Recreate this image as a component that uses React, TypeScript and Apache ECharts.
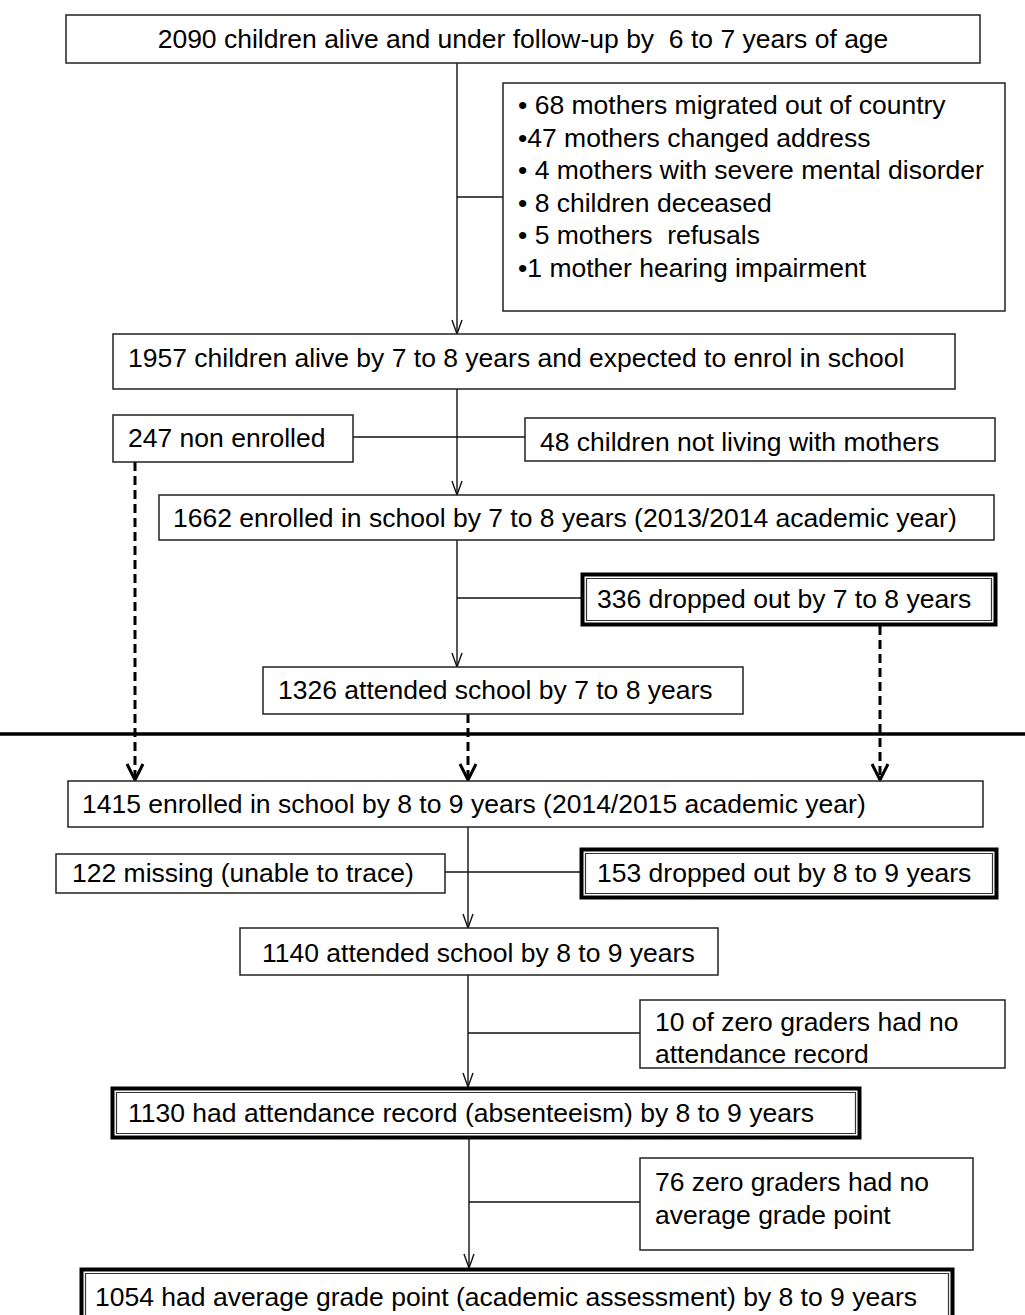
import React, { useEffect, useRef } from "react";
import * as echarts from "echarts";

// ---- Flow content (counts and labels) ----
const mainLabels = [
  "2090 children alive and under follow-up by  6 to 7 years of age",
  "1957 children alive by 7 to 8 years and expected to enrol in school",
  "1662 enrolled in school by 7 to 8 years (2013/2014 academic year)",
  "1326 attended school by 7 to 8 years",
  "1415 enrolled in school by 8 to 9 years (2014/2015 academic year)",
  "1140 attended school by 8 to 9 years",
  "1130 had attendance record (absenteeism) by 8 to 9 years",
  "1054 had average grade point (academic assessment) by 8 to 9 years",
];

const exclusionLabels = [
  "• 68 mothers migrated out of country",
  "•47 mothers changed address",
  "• 4 mothers with severe mental disorder",
  "• 8 children deceased",
  "• 5 mothers  refusals",
  "•1 mother hearing impairment",
];

const sideLabels = [
  ["247 non enrolled"],
  ["48 children not living with mothers"],
  ["336 dropped out by 7 to 8 years"],
  ["122 missing (unable to trace)"],
  ["153 dropped out by 8 to 9 years"],
  ["10 of zero graders had no", "attendance record"],
  ["76 zero graders had no", "average grade point"],
];

// ---- Layout (positions / sizes / styles) ----
type Box = { x: number; y: number; w: number; h: number; tx: number; ty: number; dbl?: boolean; center?: boolean; lh?: number };

const mainBoxes: Box[] = [
  { x: 66, y: 15, w: 914, h: 48, tx: 523, ty: 39, center: true },
  { x: 113, y: 334, w: 842, h: 55, tx: 128, ty: 358 },
  { x: 159, y: 495, w: 835, h: 45, tx: 173, ty: 518 },
  { x: 263, y: 667, w: 480, h: 47, tx: 278, ty: 690 },
  { x: 68, y: 781, w: 915, h: 46, tx: 82, ty: 804 },
  { x: 240, y: 928, w: 478, h: 47, tx: 262, ty: 953 },
  { x: 111, y: 1087, w: 750, h: 52, tx: 128, ty: 1113, dbl: true },
  { x: 80, y: 1268, w: 874, h: 62, tx: 95, ty: 1297, dbl: true },
];

const exclusionBox: Box = { x: 503, y: 83, w: 502, h: 228, tx: 518, ty: 105, lh: 32.5 };

const sideBoxes: Box[] = [
  { x: 113, y: 415, w: 240, h: 47, tx: 128, ty: 438 },
  { x: 525, y: 418, w: 470, h: 43, tx: 540, ty: 442 },
  { x: 581, y: 573, w: 416, h: 53, tx: 597, ty: 599, dbl: true },
  { x: 56, y: 854, w: 389, h: 39, tx: 72, ty: 873 },
  { x: 580, y: 848, w: 418, h: 51, tx: 597, ty: 873, dbl: true },
  { x: 640, y: 1000, w: 365, h: 68, tx: 655, ty: 1022, lh: 32 },
  { x: 640, y: 1158, w: 333, h: 92, tx: 655, ty: 1182, lh: 33 },
];

// solid vertical connectors: [x, y1, y2(arrow tip)]
const solidArrows: [number, number, number][] = [
  [457, 63, 334],
  [457, 389, 495],
  [457, 540, 667],
  [468, 827, 928],
  [468, 975, 1087],
  [469, 1139, 1268],
];
// horizontal connectors: [x1, x2, y]
const hLines: [number, number, number][] = [
  [457, 503, 197],
  [353, 525, 437],
  [457, 581, 598],
  [445, 580, 872],
  [468, 640, 1033],
  [469, 640, 1202],
];
// dashed arrows: [x, y1, tip]
const dashedArrows: [number, number, number][] = [
  [135, 462, 780],
  [468, 714, 780],
  [880, 626, 780],
];

const FONT = '"Liberation Sans", Arial, sans-serif';
const FS = 26.5;
const INK = "#111";

function textEl(x: number, y: number, text: string, center = false) {
  return {
    type: "text",
    x,
    y,
    style: {
      text,
      fill: "#000",
      fontSize: FS,
      fontFamily: FONT,
      align: center ? "center" : "left",
      verticalAlign: "middle",
    },
  };
}

function boxEls(b: Box) {
  const els: any[] = [];
  if (b.dbl) {
    els.push({
      type: "rect",
      shape: { x: b.x + 1.5, y: b.y + 1.5, width: b.w - 3, height: b.h - 3 },
      style: { fill: "#fff", stroke: "#000", lineWidth: 4 },
    });
    els.push({
      type: "rect",
      shape: { x: b.x + 5.5, y: b.y + 5.5, width: b.w - 11, height: b.h - 11 },
      style: { fill: "none", stroke: "#333", lineWidth: 1.2 },
    });
  } else {
    els.push({
      type: "rect",
      shape: { x: b.x, y: b.y, width: b.w, height: b.h },
      style: { fill: "#fff", stroke: "#222", lineWidth: 1.5 },
    });
  }
  return els;
}

export default function App() {
  const ref = useRef<HTMLDivElement>(null);
  useEffect(() => {
    document.body.style.margin = "0";
    const chart = echarts.init(ref.current!, undefined, { renderer: "svg" });
    const els: any[] = [];

    // connectors first (under boxes)
    hLines.forEach(([x1, x2, y]) => {
      els.push({ type: "line", shape: { x1, y1: y, x2, y2: y }, style: { stroke: INK, lineWidth: 1.4 } });
    });
    solidArrows.forEach(([x, y1, y2]) => {
      els.push({ type: "line", shape: { x1: x, y1, x2: x, y2 }, style: { stroke: INK, lineWidth: 1.4 } });
      els.push({
        type: "polyline",
        shape: { points: [[x - 5, y2 - 14], [x, y2], [x + 5, y2 - 14]] },
        style: { stroke: INK, lineWidth: 1.4, fill: "none" },
      });
    });
    dashedArrows.forEach(([x, y1, tip]) => {
      els.push({
        type: "line",
        shape: { x1: x, y1, x2: x, y2: tip - 2 },
        style: { stroke: "#000", lineWidth: 3, lineDash: [9, 5] },
      });
      els.push({
        type: "polyline",
        shape: { points: [[x - 8, tip - 16], [x, tip], [x + 8, tip - 16]] },
        style: { stroke: "#000", lineWidth: 3, fill: "none" },
      });
    });
    // thick separator line
    els.push({ type: "line", shape: { x1: 0, y1: 734, x2: 1025, y2: 734 }, style: { stroke: "#000", lineWidth: 3.5 } });

    // main boxes
    mainBoxes.forEach((b, i) => {
      els.push(...boxEls(b));
      els.push(textEl(b.tx, b.ty, mainLabels[i], b.center));
    });
    // exclusion box
    els.push(...boxEls(exclusionBox));
    exclusionLabels.forEach((t, i) => {
      els.push(textEl(exclusionBox.tx, exclusionBox.ty + i * (exclusionBox.lh || 32), t));
    });
    // side boxes
    sideBoxes.forEach((b, i) => {
      els.push(...boxEls(b));
      sideLabels[i].forEach((t, j) => els.push(textEl(b.tx, b.ty + j * (b.lh || 32), t)));
    });

    chart.setOption({
      animation: false,
      backgroundColor: "#fff",
      graphic: { elements: els },
    });
    return () => chart.dispose();
  }, []);
  return (
    <div
      ref={ref}
      style={{ position: "absolute", left: 0, top: 0, width: 1025, height: 1315, background: "#fff" }}
    />
  );
}
